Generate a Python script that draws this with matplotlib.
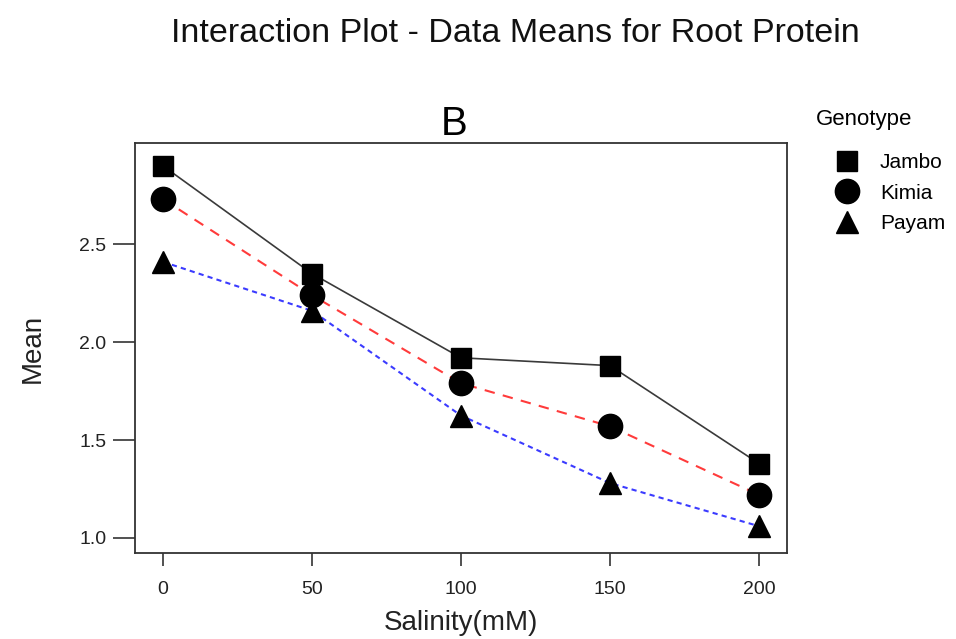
import matplotlib.pyplot as plt
from matplotlib.lines import Line2D

plt.rcParams['font.family'] = ['Liberation Sans', 'DejaVu Sans']

# Data
salinity = [0, 50, 100, 150, 200]
genotypes = ["Jambo", "Kimia", "Payam"]
jambo = [2.90, 2.35, 1.92, 1.88, 1.38]
kimia = [2.73, 2.24, 1.79, 1.57, 1.22]
payam = [2.41, 2.16, 1.625, 1.28, 1.06]

xticks = [0, 50, 100, 150, 200]
yticks = [1.0, 1.5, 2.0, 2.5]

fig = plt.figure(figsize=(9.56, 6.39), dpi=100)
ax = fig.add_axes([0.1412, 0.1346, 0.682, 0.6416])

styles = [
    (jambo, "s", dict(color="#3a3a3a", lw=1.2, ls="-"), 15),
    (kimia, "o", dict(color="#ff3b3b", lw=1.5, ls=(0, (5, 4))), 17.5),
    (payam, "^", dict(color="#3b3bff", lw=1.5, ls=(0, (2.5, 2))), 16.5),
]
handles = []
for vals, mk, ls, ms in styles:
    ax.plot(salinity, vals, **ls, zorder=2)
    ax.plot(salinity, vals, ls="none", marker=mk, ms=ms, color="black", zorder=3)
    handles.append(Line2D([], [], ls="none", marker=mk, ms=ms, color="black"))

ax.set_xlim(-9.4, 209.4)
ax.set_ylim(0.923, 3.017)
ax.set_xticks(xticks)
ax.set_yticks(yticks)
ax.set_yticklabels([f"{v:.1f}" for v in yticks])

for s in ax.spines.values():
    s.set_color("#333333")
    s.set_linewidth(1.3)
ax.tick_params(axis="y", direction="out", length=15.5, width=1.2, color="#333333",
               labelsize=14, labelcolor="#222222", pad=5)
ax.tick_params(axis="x", direction="out", length=9.5, width=1.2, color="#333333",
               labelsize=14, labelcolor="#222222", pad=11)

ax.set_xlabel("Salinity(mM)", fontsize=20, color="#222222", labelpad=8)
ax.set_ylabel("Mean", fontsize=20, color="#222222", labelpad=24)
ax.set_title("B", fontsize=29, pad=-2, x=0.49)

fig.suptitle("Interaction Plot - Data Means for Root Protein", fontsize=24.5,
             x=0.539, y=0.972, color="#111111")

leg = ax.legend(handles, genotypes, title="Genotype", loc="upper left",
                bbox_to_anchor=(0.853, 0.83), bbox_transform=fig.transFigure,
                frameon=False, fontsize=15, title_fontsize=16,
                handlelength=3.0, handletextpad=0.1, labelspacing=0.55,
                borderaxespad=0, borderpad=0)
leg._legend_box.align = "left"
leg._legend_box.sep = 17

fig.savefig("out.png", dpi=100)
